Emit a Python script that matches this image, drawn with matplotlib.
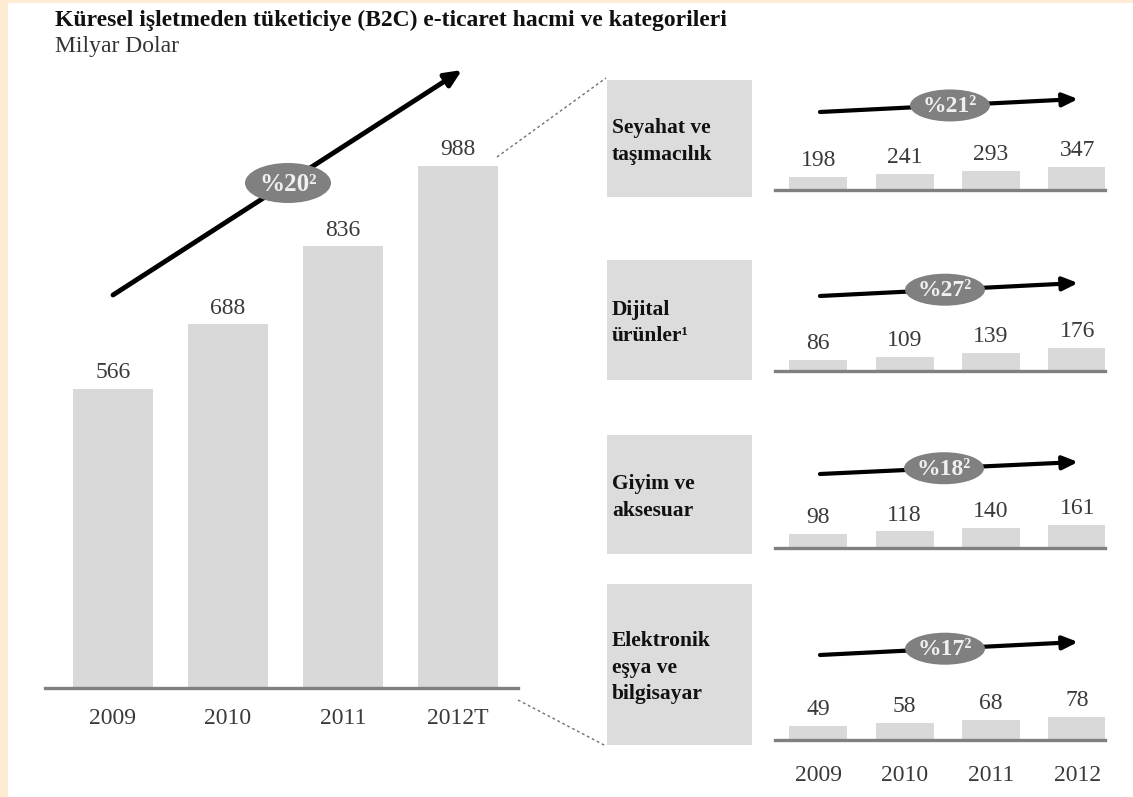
import matplotlib
matplotlib.use("Agg")
import matplotlib.pyplot as plt
from matplotlib.patches import Rectangle, Ellipse

# veriler
years_main = ["2009", "2010", "2011", "2012T"]
total_b2c = [566, 688, 836, 988]
years_small = ["2009", "2010", "2011", "2012"]
cat_names = ["Seyahat ve\ntaşımacılık", "Dijital\nürünler¹", "Giyim ve\naksesuar",
             "Elektronik\neşya ve\nbilgisayar"]
travel = [198, 241, 293, 347]
digital = [86, 109, 139, 176]
apparel = [98, 118, 140, 161]
electronics = [49, 58, 68, 78]
cat_values = [travel, digital, apparel, electronics]
cagr_main = "%20²"
cagr_cats = ["%21²", "%27²", "%18²", "%17²"]

W, H = 1133, 797
plt.rcParams['font.family'] = ['Liberation Serif', 'DejaVu Serif']
bar_c = "#d9d9d9"
base_c = "#808080"
num_c = "#3a3a3a"
NUM_FS = 17

fig = plt.figure(figsize=(W / 100, H / 100), dpi=100)
fig.patch.set_facecolor("#fdebd3")
fig.add_artist(Rectangle((8 / W, 0), 1 - 8 / W, 1 - 3 / H, transform=fig.transFigure,
                         facecolor="white", edgecolor="none", zorder=-5))


def px_axes(left, right, base, top):
    # pixel koordinatlari (ustten) -> figure fraction
    return fig.add_axes([left / W, (H - base) / H, (right - left) / W, (base - top) / H])


# ana grafik
ax = px_axes(45, 518, 688, 60)
x = range(len(total_b2c))
ax.bar(x, total_b2c, width=0.70, color=bar_c, zorder=2)
for i, v in enumerate(total_b2c):
    ax.annotate(str(v), (i, v), xytext=(0, 4), textcoords="offset points",
                ha="center", va="bottom", fontsize=NUM_FS, color=num_c)
ax.set_xlim(-0.59, 3.52)
ax.set_ylim(0, 1188)
ax.set_xticks(list(x))
ax.set_xticklabels(years_main, fontsize=NUM_FS, color=num_c)
ax.tick_params(axis="x", length=0, pad=14.5)
ax.set_yticks([])
for s in ["top", "right", "left"]:
    ax.spines[s].set_visible(False)
ax.spines["bottom"].set_color(base_c)
ax.spines["bottom"].set_linewidth(2.4)
ax.patch.set_alpha(0)

# kategori grafikleri
baselines = [190, 371, 548, 740]
for k, vals in enumerate(cat_values):
    sa = px_axes(775, 1105, baselines[k], baselines[k] - 60)
    sa.bar(range(4), vals, width=0.67, color=bar_c, zorder=2)
    for i, v in enumerate(vals):
        sa.annotate(str(v), (i, v), xytext=(0, 4), textcoords="offset points",
                    ha="center", va="bottom", fontsize=NUM_FS, color=num_c)
    sa.set_xlim(-0.5, 3.32)
    sa.set_ylim(0, max(vals) * 2.6)
    sa.set_yticks([])
    sa.set_xticks(range(4))
    if k == 3:
        sa.set_xticklabels(years_small, fontsize=NUM_FS, color=num_c)
    else:
        sa.set_xticklabels([])
    sa.tick_params(axis="x", length=0, pad=18)
    for s in ["top", "right", "left"]:
        sa.spines[s].set_visible(False)
    sa.spines["bottom"].set_color(base_c)
    sa.spines["bottom"].set_linewidth(2.4)
    sa.patch.set_alpha(0)

# ust katman: basliklar, oklar, kutular
ov = fig.add_axes([0, 0, 1, 1], zorder=5)
ov.set_xlim(0, W)
ov.set_ylim(H, 0)
ov.axis("off")
ov.patch.set_alpha(0)

ov.text(55, 20, "Küresel işletmeden tüketiciye (B2C) e-ticaret hacmi ve kategorileri",
        fontsize=17, fontweight="bold", ha="left", va="center", color="#111111")
ov.text(55, 46, "Milyar Dolar", fontsize=17, ha="left", va="center", color="#333333")

# buyuk ok
ov.annotate("", xy=(462, 70), xytext=(113, 295),
            arrowprops=dict(arrowstyle="-|>,head_length=1.0,head_width=0.45",
                            lw=3.5, color="black", shrinkA=0, shrinkB=0))
ov.add_patch(Ellipse((288, 183), 86, 40, facecolor=base_c, edgecolor="none", zorder=3))
ov.text(288, 184, cagr_main, fontsize=18, fontweight="bold", color="#f0f0f0",
        ha="center", va="center", zorder=4)

# kesikli baglanti cizgileri
ov.plot([497, 606], [157, 78], ls=(0, (2, 2)), color="#707070", lw=1)
ov.plot([518, 606], [700, 746], ls=(0, (2, 2)), color="#707070", lw=1)

boxes = [(80, 197), (260, 380), (435, 554), (584, 745)]
arrows_y = [(112, 99), (296, 283), (474, 462), (655, 642)]
ell_x = [950, 945, 944, 945]
for k in range(4):
    t, b = boxes[k]
    ov.add_patch(Rectangle((607, t), 145, b - t, facecolor="#dcdcdc", edgecolor="none"))
    ov.text(612, (t + b) / 2 + 3, cat_names[k], fontsize=15.5, fontweight="bold",
            ha="left", va="center", linespacing=1.45, color="#111111")
    y0, y1 = arrows_y[k]
    ov.annotate("", xy=(1078, y1), xytext=(820, y0),
                arrowprops=dict(arrowstyle="-|>,head_length=0.9,head_width=0.4",
                                lw=3, color="black", shrinkA=0, shrinkB=0))
    ey = y0 + (y1 - y0) * (ell_x[k] - 820) / 258
    ov.add_patch(Ellipse((ell_x[k], ey), 80, 32, facecolor=base_c, edgecolor="none", zorder=3))
    ov.text(ell_x[k], ey + 1, cagr_cats[k], fontsize=17, fontweight="bold", color="#f0f0f0",
            ha="center", va="center", zorder=4)

fig.savefig("out.png", dpi=100, facecolor=fig.get_facecolor())
